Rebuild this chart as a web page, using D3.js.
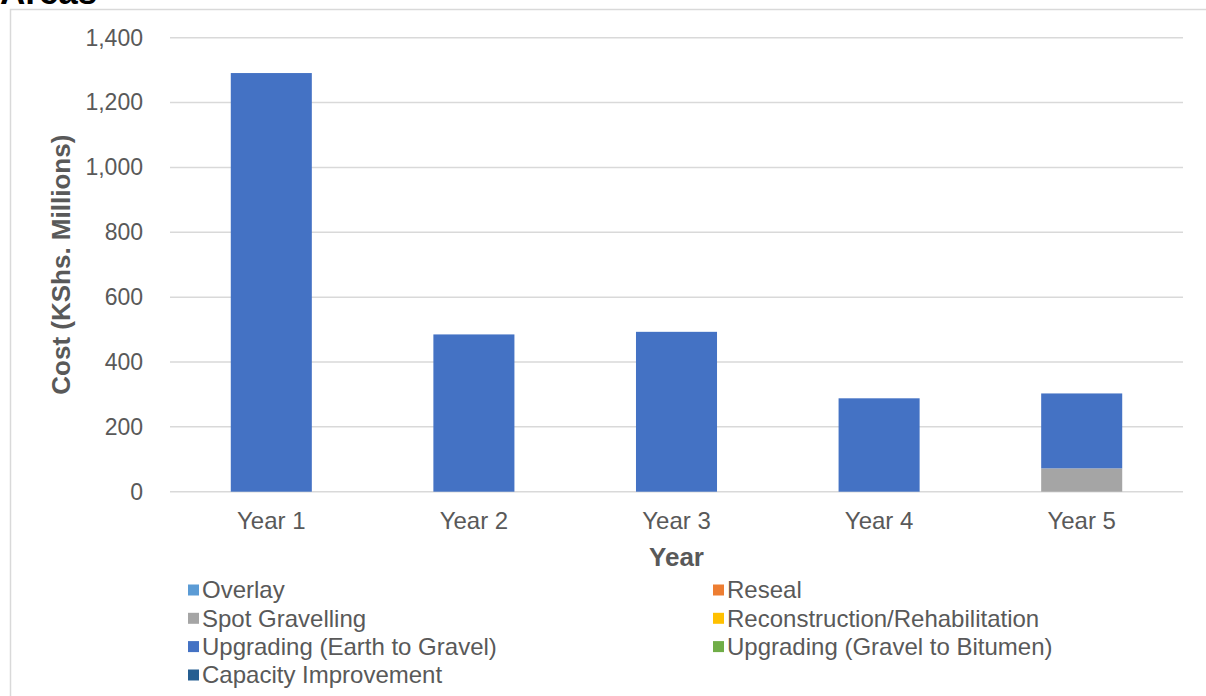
<!DOCTYPE html>
<html>
<head>
<meta charset="utf-8">
<script src="https://cdn.jsdelivr.net/npm/d3@7"></script>
<style>
  html, body { margin: 0; padding: 0; background: #fff; }
  svg { display: block; font-family: "Liberation Sans", Arial, sans-serif; }
</style>
</head>
<body>
<svg id="chart" width="1206" height="696"></svg>
<script>
// Annual maintenance and improvement cost by work type (KShs. Millions)
const years = ["Year 1", "Year 2", "Year 3", "Year 4", "Year 5"];
const workTypes = [
  "Overlay",
  "Reseal",
  "Spot Gravelling",
  "Reconstruction/Rehabilitation",
  "Upgrading (Earth to Gravel)",
  "Upgrading (Gravel to Bitumen)",
  "Capacity Improvement"
];
const overlay        = [0, 0, 0, 0, 0];
const reseal         = [0, 0, 0, 0, 0];
const spotGravelling = [0, 0, 0, 0, 72];
const reconstruction = [0, 0, 0, 0, 0];
const earthToGravel  = [1291, 485, 493, 288, 231];
const gravelToBitumen = [0, 0, 0, 0, 0];
const capacity       = [0, 0, 0, 0, 0];
const yTicks = [0, 200, 400, 600, 800, 1000, 1200, 1400];
const colors = ["#5B9BD5", "#ED7D31", "#A5A5A5", "#FFC000", "#4472C4", "#70AD47", "#255E91"];

const seriesValues = [overlay, reseal, spotGravelling, reconstruction, earthToGravel, gravelToBitumen, capacity];
const rows = years.map((y, i) => {
  const r = { year: y };
  workTypes.forEach((w, j) => { r[w] = seriesValues[j][i]; });
  return r;
});

const svg = d3.select("#chart");
const textColor = "#595959";
const gridColor = "#d9d9d9";

// Outer frame (partially visible)
svg.append("rect")
  .attr("x", 10.5).attr("y", 9.5)
  .attr("width", 1220).attr("height", 720)
  .attr("fill", "none").attr("stroke", gridColor).attr("stroke-width", 1.5);

// Heading sitting above the frame, mostly outside the page
svg.append("text")
  .attr("x", 0).attr("y", 4)
  .attr("font-size", 35).attr("font-weight", "bold").attr("fill", "#000")
  .text("Areas");

const plot = { left: 170, right: 1183, top: 37.7, bottom: 491.7 };

const x = d3.scaleBand().domain(years).range([plot.left, plot.right]).paddingInner(0.6).paddingOuter(0.3);
const y = d3.scaleLinear().domain([0, 1400]).range([plot.bottom, plot.top]);

// Gridlines
svg.append("g").selectAll("line").data(yTicks).join("line")
  .attr("x1", plot.left).attr("x2", plot.right)
  .attr("y1", d => y(d)).attr("y2", d => y(d))
  .attr("stroke", gridColor).attr("stroke-width", 1.5);

// Y axis tick labels
const yAxis = d3.axisLeft(y).tickValues(yTicks).tickFormat(d3.format(",")).tickSize(0).tickPadding(27);
const gy = svg.append("g").attr("transform", `translate(${plot.left},0)`).call(yAxis);
gy.select(".domain").remove();
gy.selectAll("text").attr("font-size", 23).attr("fill", textColor).attr("font-family", "Liberation Sans, Arial, sans-serif");

// X axis labels
const xAxis = d3.axisBottom(x).tickSize(0).tickPadding(20);
const gx = svg.append("g").attr("transform", `translate(0,${plot.bottom})`).call(xAxis);
gx.select(".domain").remove();
gx.selectAll("text").attr("font-size", 24).attr("fill", textColor).attr("font-family", "Liberation Sans, Arial, sans-serif");

// Stacked bars
const stacked = d3.stack().keys(workTypes)(rows);
svg.append("g").selectAll("g").data(stacked).join("g")
  .attr("fill", (d, i) => colors[i])
  .selectAll("rect").data(d => d).join("rect")
  .attr("x", d => x(d.data.year))
  .attr("width", x.bandwidth())
  .attr("y", d => y(d[1]))
  .attr("height", d => y(d[0]) - y(d[1]));

// Axis titles
svg.append("text")
  .attr("transform", `translate(70,${(plot.top + plot.bottom) / 2}) rotate(-90)`)
  .attr("text-anchor", "middle")
  .attr("font-size", 26).attr("font-weight", "bold").attr("fill", textColor)
  .text("Cost (KShs. Millions)");

svg.append("text")
  .attr("x", (plot.left + plot.right) / 2).attr("y", 566)
  .attr("text-anchor", "middle")
  .attr("font-size", 26).attr("font-weight", "bold").attr("fill", textColor)
  .text("Year");

// Legend: two columns
const legendCols = [188, 713];
const legendRowY = [590, 618.3, 646.6, 675];
const legend = svg.append("g").selectAll("g").data(workTypes).join("g")
  .attr("transform", (d, i) => `translate(${legendCols[i % 2]},${legendRowY[Math.floor(i / 2)]})`);
legend.append("rect")
  .attr("x", 0).attr("y", -5.5).attr("width", 11).attr("height", 11)
  .attr("fill", (d, i) => colors[i]);
legend.append("text")
  .attr("x", 14).attr("y", 0).attr("dy", "0.35em")
  .attr("font-size", 24).attr("fill", textColor)
  .text(d => d);
</script>
</body>
</html>
